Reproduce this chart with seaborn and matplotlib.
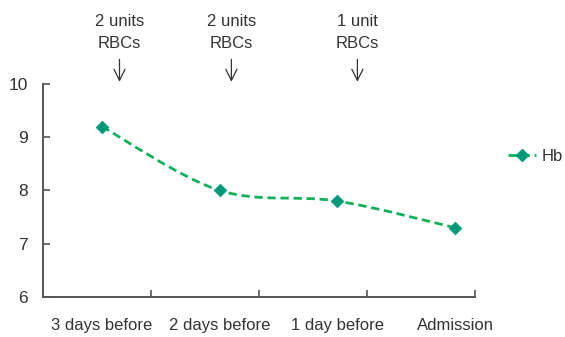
import numpy as np
import matplotlib
matplotlib.use("Agg")
import matplotlib.pyplot as plt
from matplotlib.path import Path
from matplotlib.patches import PathPatch
from matplotlib.lines import Line2D
import seaborn as sns

# data
days = ["3 days before", "2 days before", "1 day before", "Admission"]
hb = [9.2, 8.0, 7.8, 7.3]
transfusions = ["2 units\nRBCs", "2 units\nRBCs", "1 unit\nRBCs"]
transfusion_x = [0.15, 1.1, 2.17]

LINE_C = "#11b157"
MARK_C = "#009a7a"
TEXT_C = "#333333"

sns.set_theme(style="white")
plt.rcParams["font.family"] = ["Liberation Sans", "DejaVu Sans"]

fig = plt.figure(figsize=(5.65, 3.37), dpi=100)
ax = fig.add_axes([0.076, 0.119, 0.765, 0.632])

# smoothed dashed curve through points (cubic bezier, excel-like smoothing)
xs = np.arange(len(hb), dtype=float)
ys = np.array(hb)
verts = [(xs[0], ys[0])]
codes = [Path.MOVETO]
for i in range(len(xs) - 1):
    p0 = np.array([xs[max(i - 1, 0)], ys[max(i - 1, 0)]])
    p1 = np.array([xs[i], ys[i]])
    p2 = np.array([xs[i + 1], ys[i + 1]])
    p3 = np.array([xs[min(i + 2, len(xs) - 1)], ys[min(i + 2, len(xs) - 1)]])
    c1 = p1 + (p2 - p0) / 6
    c2 = p2 - (p3 - p1) / 6
    verts += [tuple(c1), tuple(c2), tuple(p2)]
    codes += [Path.CURVE4] * 3
curve = PathPatch(Path(verts, codes), facecolor="none", edgecolor=LINE_C,
                  lw=2.0, linestyle=(0, (3.0, 1.7)), zorder=2)
ax.add_patch(curve)

sns.scatterplot(x=days, y=hb, marker="D", s=42, color=MARK_C,
                edgecolor=MARK_C, linewidth=0.5, zorder=3, ax=ax)

ax.set_xlim(-0.5, 3.17)
ax.set_ylim(6, 10)
ax.set_yticks([6, 7, 8, 9, 10])
ax.set_xticks(range(len(days)))
ax.set_xticklabels(days)
ax.tick_params(axis="x", length=0, pad=15, labelsize=12, labelcolor=TEXT_C)
ax.tick_params(axis="y", direction="in", length=5, width=1.2, color="#555555",
               pad=11, labelsize=12.5, labelcolor=TEXT_C, left=True)
ax.set_xticks(np.linspace(-0.5, 3.17, 5)[1:], minor=True)
ax.tick_params(axis="x", which="minor", direction="in", length=5, width=1.2,
               color="#555555", bottom=True)
for s in ["top", "right"]:
    ax.spines[s].set_visible(False)
for s in ["left", "bottom"]:
    ax.spines[s].set_color("#555555")
    ax.spines[s].set_linewidth(1.4)
ax.set_xlabel("")
ax.set_ylabel("")

# transfusion annotations
for lab, xp in zip(transfusions, transfusion_x):
    ax.annotate("", xy=(xp, 10.04), xytext=(xp, 10.46),
                arrowprops=dict(arrowstyle="->", color="#333333", lw=0.9,
                                mutation_scale=20, shrinkA=0, shrinkB=0),
                annotation_clip=False)
    ax.text(xp, 10.62, lab, ha="center", va="bottom", fontsize=12,
            color=TEXT_C, linespacing=1.6, clip_on=False)

handle = Line2D([], [], color=LINE_C, lw=2.0, linestyle=(0, (3.0, 1.7)),
                marker="D", markersize=6, markerfacecolor=MARK_C,
                markeredgecolor=MARK_C)
ax.legend([handle], ["Hb"], loc="center left", bbox_to_anchor=(1.075, 0.66),
          frameon=False, fontsize=12, handlelength=1.7, handletextpad=0.35,
          borderpad=0, borderaxespad=0, labelcolor=TEXT_C)

fig.savefig("out.png", dpi=100)
